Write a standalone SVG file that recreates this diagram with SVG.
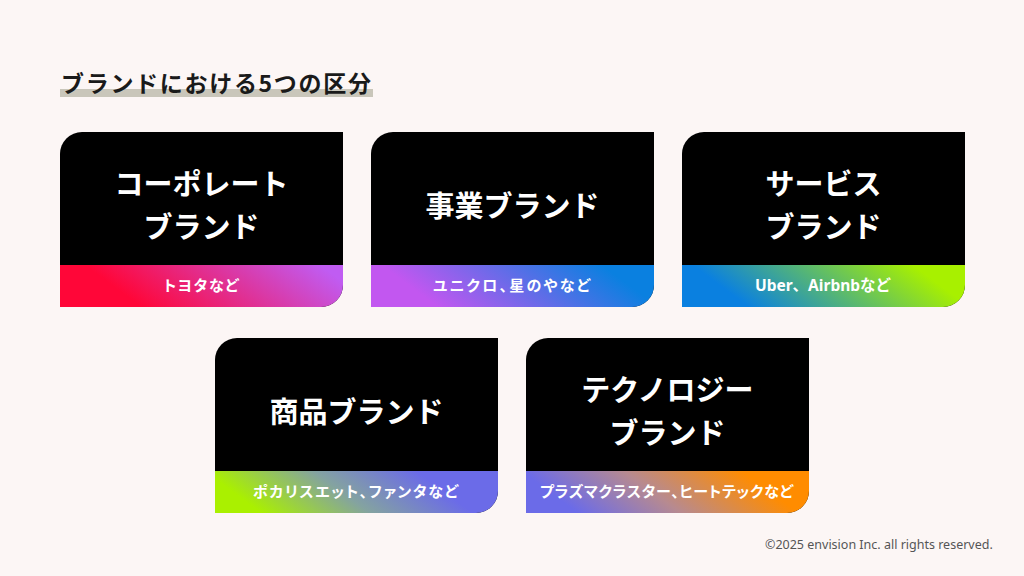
<svg xmlns="http://www.w3.org/2000/svg" width="1024" height="576" viewBox="0 0 1024 576">
<style>
.card{fill:#000}
.ttl{font-family:"Noto Sans CJK JP","Noto Sans",sans-serif;font-weight:700;font-size:29px;fill:#fff;text-anchor:middle}
.sub{font-family:"Noto Sans","Noto Sans CJK JP",sans-serif;font-weight:700;font-size:15px;fill:#fff;text-anchor:middle;font-feature-settings:"palt"}
.sub2{font-family:"Noto Sans","Noto Sans CJK JP",sans-serif;font-weight:700;font-size:15.5px;fill:#fff;text-anchor:middle}
.head{font-family:"Noto Sans CJK JP","Noto Sans",sans-serif;font-weight:700;font-size:23px;fill:#1a1a1a;letter-spacing:1.7px}
.foot{font-family:"Noto Sans","Liberation Sans",sans-serif;font-size:12.5px;fill:#555}
</style>
<defs>
<linearGradient id="g1" x1="0" y1="0.6" x2="1" y2="0.4"><stop offset="0.2" stop-color="#ff0638"/><stop offset="1" stop-color="#c05cf2"/></linearGradient>
<linearGradient id="g2" x1="0" y1="0.6" x2="1" y2="0.4"><stop offset="0.15" stop-color="#c257f0"/><stop offset="0.9" stop-color="#0a80e0"/></linearGradient>
<linearGradient id="g3" x1="0" y1="0.6" x2="1" y2="0.4"><stop offset="0.15" stop-color="#0a80e0"/><stop offset="0.9" stop-color="#a8f000"/></linearGradient>
<linearGradient id="g4" x1="0" y1="0.6" x2="1" y2="0.4"><stop offset="0.08" stop-color="#aaf000"/><stop offset="0.45" stop-color="#84a3a0"/><stop offset="0.8" stop-color="#6b6be8"/></linearGradient>
<linearGradient id="g5" x1="0" y1="0.6" x2="1" y2="0.4"><stop offset="0.1" stop-color="#6b6be8"/><stop offset="0.45" stop-color="#b78a90"/><stop offset="0.85" stop-color="#ff8c00"/></linearGradient>
</defs>
<rect width="1024" height="576" fill="#fcf6f5"/>
<g id="title">
<rect x="60" y="89" width="313" height="8" fill="#c9c6ba"/>
<text class="head" x="61" y="92">ブランドにおける5つの区分</text>
</g>
<g id="card-corporate">
<path class="card" d="M60,154 A22,22 0 0 1 82,132 H343 V285 A22,22 0 0 1 321,307 H60 Z"/>
<path fill="url(#g1)" d="M60,265 H343 V285 A22,22 0 0 1 321,307 H60 Z"/>
<text class="ttl" x="201.5" y="195">コーポレート</text>
<text class="ttl" x="201.5" y="238">ブランド</text>
<text class="sub" x="201" y="291" textLength="75" lengthAdjust="spacing">トヨタなど</text>
</g>
<g id="card-business">
<path class="card" d="M371,154 A22,22 0 0 1 393,132 H654 V285 A22,22 0 0 1 632,307 H371 Z"/>
<path fill="url(#g2)" d="M371,265 H654 V285 A22,22 0 0 1 632,307 H371 Z"/>
<text class="ttl" x="512.5" y="217">事業ブランド</text>
<text class="sub" x="511.5" y="291" textLength="157" lengthAdjust="spacing">ユニクロ、星のやなど</text>
</g>
<g id="card-service">
<path class="card" d="M682,154 A22,22 0 0 1 704,132 H965 V285 A22,22 0 0 1 943,307 H682 Z"/>
<path fill="url(#g3)" d="M682,265 H965 V285 A22,22 0 0 1 943,307 H682 Z"/>
<text class="ttl" x="823.5" y="195">サービス</text>
<text class="ttl" x="823.5" y="238">ブランド</text>
<text class="sub2" x="823" y="291">Uber、Airbnbなど</text>
</g>
<g id="card-product">
<path class="card" d="M215,360 A22,22 0 0 1 237,338 H498 V491 A22,22 0 0 1 476,513 H215 Z"/>
<path fill="url(#g4)" d="M215,471 H498 V491 A22,22 0 0 1 476,513 H215 Z"/>
<text class="ttl" x="356.5" y="423">商品ブランド</text>
<text class="sub" x="355.5" y="497" textLength="205" lengthAdjust="spacing">ポカリスエット、ファンタなど</text>
</g>
<g id="card-technology">
<path class="card" d="M526,360 A22,22 0 0 1 548,338 H809 V491 A22,22 0 0 1 787,513 H526 Z"/>
<path fill="url(#g5)" d="M526,471 H809 V491 A22,22 0 0 1 787,513 H526 Z"/>
<text class="ttl" x="667.5" y="401">テクノロジー</text>
<text class="ttl" x="667.5" y="444">ブランド</text>
<text class="sub" x="666.5" y="497" textLength="253" lengthAdjust="spacing">プラズマクラスター、ヒートテックなど</text>
</g>
<g id="connectors"></g>
<text class="foot" x="765" y="549">©2025 envision Inc. all rights reserved.</text>
</svg>
